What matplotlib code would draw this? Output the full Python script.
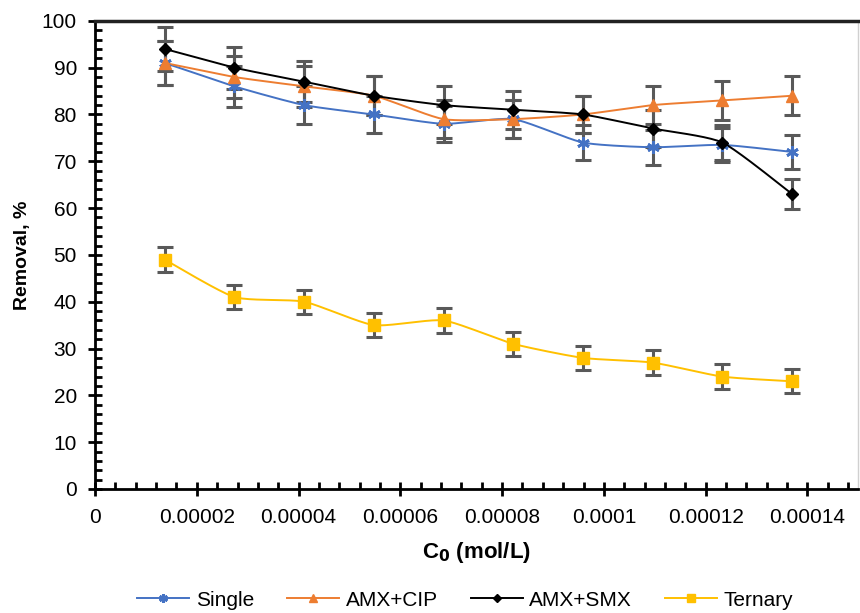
import numpy as np
import matplotlib
matplotlib.use("Agg")
import matplotlib.pyplot as plt
from matplotlib.ticker import MultipleLocator, FuncFormatter

plt.rcParams['font.family'] = ['Liberation Sans', 'DejaVu Sans']

conc = [0.0000137, 0.0000274, 0.0000411, 0.0000548, 0.0000685,
        0.0000822, 0.0000959, 0.0001096, 0.0001233, 0.0001370]

single = [91, 86, 82, 80, 78, 79, 74, 73, 73.5, 72]
amx_cip = [91, 88, 86, 84, 79, 79, 80, 82, 83, 84]
amx_smx = [94, 90, 87, 84, 82, 81, 80, 77, 74, 63]
ternary = [49, 41, 40, 35, 36, 31, 28, 27, 24, 23]

err_single = [4.6, 4.3, 4.1, 4.0, 3.9, 4.0, 3.7, 3.7, 3.7, 3.6]
err_cip = [4.6, 4.4, 4.3, 4.2, 4.0, 4.0, 4.0, 4.1, 4.2, 4.2]
err_smx = [4.7, 4.5, 4.4, 4.2, 4.1, 4.1, 4.0, 3.9, 3.7, 3.2]
err_ter = [2.7, 2.6, 2.6, 2.6, 2.6, 2.6, 2.6, 2.6, 2.6, 2.6]

series_names = ["Single", "AMX+CIP", "AMX+SMX", "Ternary"]
colors = ["#4472C4", "#ED7D31", "#000000", "#FFC000"]
markers = [(6, 2, 0), "^", "D", "s"]
msizes = [9, 9, 6.5, 9]


def smooth(x, y, n=20, tau=0.3):
    """Render a smoothed (cardinal spline) line through the data points."""
    x = np.asarray(x, float)
    y = np.asarray(y, float)
    t = np.linspace(0, 1, n, endpoint=False)
    t2, t3 = t * t, t * t * t
    h00 = 2 * t3 - 3 * t2 + 1
    h10 = t3 - 2 * t2 + t
    h01 = -2 * t3 + 3 * t2
    h11 = t3 - t2
    out = []
    for arr in (x, y):
        segs = []
        for i in range(len(arr) - 1):
            a0 = arr[i - 1] if i > 0 else arr[i]
            a1, a2 = arr[i], arr[i + 1]
            a3 = arr[i + 2] if i + 2 < len(arr) else arr[i + 1]
            m1 = tau * (a2 - a0)
            m2 = tau * (a3 - a1)
            segs.append(h00 * a1 + h10 * m1 + h01 * a2 + h11 * m2)
        segs.append([arr[-1]])
        out.append(np.concatenate(segs))
    return out[0], out[1]


fig = plt.figure(figsize=(8.6, 6.13), dpi=100)
ax = fig.add_axes([0.1105, 0.2023, 0.8875, 0.7637])

data = [single, amx_cip, amx_smx, ternary]
errs = [err_single, err_cip, err_smx, err_ter]

for name, yv, ev, c, m, ms in zip(series_names, data, errs, colors, markers, msizes):
    sx, sy = smooth(conc, yv)
    ax.plot(sx, sy, color=c, lw=1.4, zorder=3)
    ax.errorbar(conc, yv, yerr=ev, fmt='none', ecolor="#595959", elinewidth=2.2,
                capsize=5.5, capthick=2.2, zorder=2)
    mkw = dict(mew=2, mec=c) if m == (6, 2, 0) else dict(mec=c)
    ax.plot(conc, yv, linestyle='none', marker=m, color=c, ms=ms, zorder=4, **mkw)
    ax.plot([], [], color=c, lw=1.4, marker=m, ms=ms * 0.7, label=name, **mkw)

ax.set_xlim(0, 0.00015)
ax.set_ylim(0, 100)
ax.xaxis.set_major_locator(MultipleLocator(0.00002))
ax.xaxis.set_minor_locator(MultipleLocator(0.000004))
ax.yaxis.set_major_locator(MultipleLocator(10))
ax.yaxis.set_minor_locator(MultipleLocator(2))


def xfmt(v, pos):
    if abs(v) < 1e-12:
        return "0"
    return f"{v:.5f}".rstrip("0")


ax.xaxis.set_major_formatter(FuncFormatter(xfmt))

for s in ["left", "bottom"]:
    ax.spines[s].set_linewidth(2)
    ax.spines[s].set_color("black")
ax.spines["top"].set_linewidth(2.5)
ax.spines["top"].set_color("#222222")
ax.spines["right"].set_linewidth(1)
ax.spines["right"].set_color("#D0D0D0")

ax.tick_params(axis='both', which='major', direction='inout', length=10, width=2,
               labelsize=15, colors='black')
ax.tick_params(axis='both', which='minor', direction='in', length=5, width=2)
ax.tick_params(axis='x', which='major', pad=9)
ax.tick_params(axis='y', which='major', pad=8)

ax.set_ylabel("Removal, %", fontsize=14, fontweight='bold', labelpad=8)
ax.set_xlabel(r"C$_\mathbf{0}$ (mol/L)", fontsize=16, fontweight='bold', labelpad=9)

fig.legend(loc='center', bbox_to_anchor=(0.541, 0.021), ncol=4, frameon=False,
           fontsize=15, handlelength=2.5, columnspacing=1.6, handletextpad=0.3)

fig.savefig("out.png", dpi=100)
